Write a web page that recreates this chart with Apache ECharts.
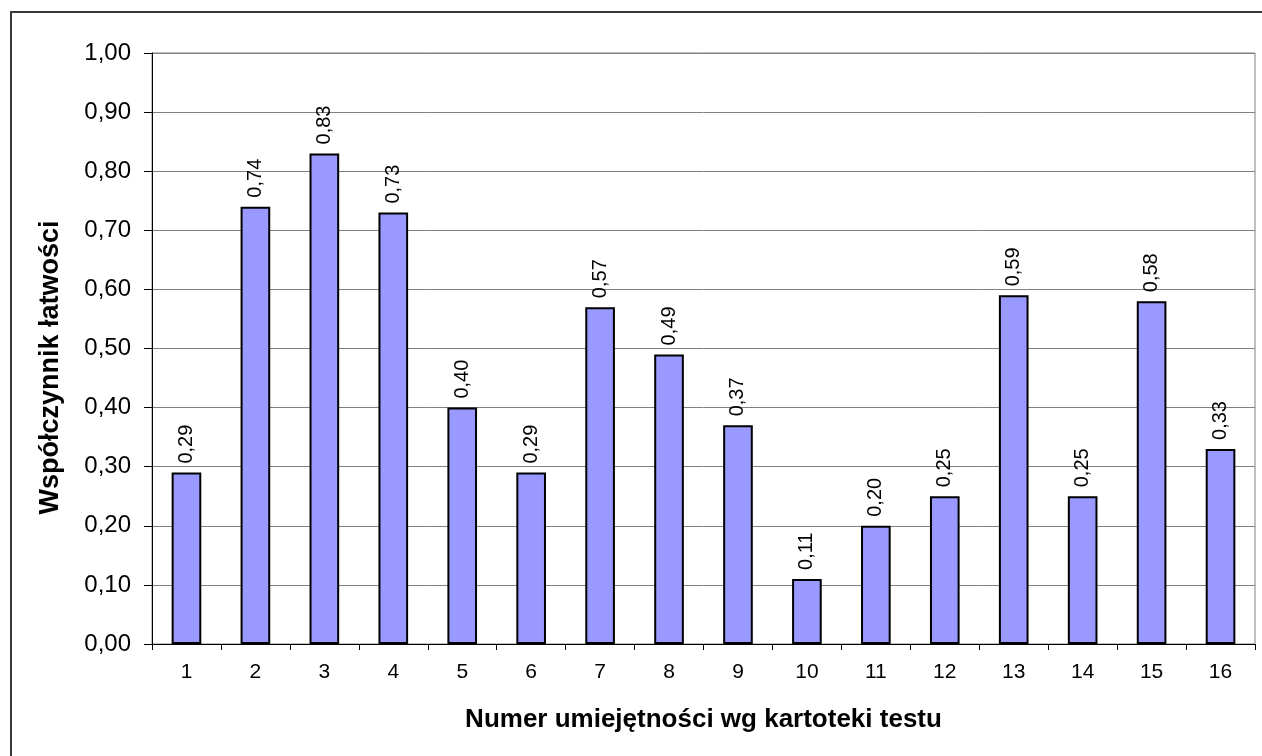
<!DOCTYPE html>
<html>
<head>
<meta charset="utf-8">
<script src="https://cdn.jsdelivr.net/npm/echarts@6/dist/echarts.min.js"></script>
<style>
  html, body { margin: 0; padding: 0; background: #fff; }
  #chart { width: 1262px; height: 756px; }
</style>
</head>
<body>
<div id="chart"></div>
<script>
  var categories = ['1','2','3','4','5','6','7','8','9','10','11','12','13','14','15','16']
  var values = [0.29, 0.74, 0.83, 0.73, 0.40, 0.29, 0.57, 0.49, 0.37, 0.11, 0.20, 0.25, 0.59, 0.25, 0.58, 0.33]
  var yTitle = 'Współczynnik łatwości'
  var xTitle = 'Numer umiejętności wg kartoteki testu'

  function fmt (v) {
    return Number(v).toFixed(2).replace('.', ',')
  }

  var myChart = echarts.init(document.getElementById('chart'))
  var option = {
    animation: false,
    textStyle: { fontFamily: 'Liberation Sans, Arial, sans-serif' },
    graphic: [
      {
        type: 'rect',
        shape: { x: 11, y: 12, width: 1400, height: 900 },
        style: { fill: 'none', stroke: '#3a3a3a', lineWidth: 2 },
        silent: true,
      },
    ],
    grid: {
      left: 152,
      top: 53,
      right: 7,
      bottom: 112,
      show: true,
      borderColor: '#808080',
      borderWidth: 1,
    },
    xAxis: {
      type: 'category',
      data: categories,
      name: xTitle,
      nameLocation: 'middle',
      nameGap: 63,
      nameTextStyle: { fontSize: 26, fontWeight: 'bold', color: '#000' },
      axisLine: { lineStyle: { color: '#000', width: 1 } },
      axisTick: { show: true, length: 6, lineStyle: { color: '#000' } },
      axisLabel: { fontSize: 21, color: '#000', margin: 18 },
    },
    yAxis: {
      type: 'value',
      min: 0,
      max: 1,
      interval: 0.1,
      name: yTitle,
      nameLocation: 'middle',
      nameGap: 88,
      nameTextStyle: { fontSize: 27, fontWeight: 'bold', color: '#000', padding: [0, 38, 0, 0] },
      axisLine: { show: true, lineStyle: { color: '#000', width: 1 } },
      axisTick: { show: true, length: 8, lineStyle: { color: '#000' } },
      axisLabel: { fontSize: 24, color: '#000', margin: 21, formatter: fmt },
      splitLine: { lineStyle: { color: '#808080', width: 1 } },
    },
    series: [
      {
        type: 'bar',
        data: values,
        barWidth: '43%',
        itemStyle: { color: '#9999ff', borderColor: '#000', borderWidth: 2 },
        label: {
          show: true,
          position: 'top',
          rotate: 90,
          align: 'left',
          verticalAlign: 'middle',
          distance: 9,
          fontSize: 20,
          color: '#000',
          formatter: function (p) { return fmt(p.value) },
        },
      },
    ],
  }
  myChart.setOption(option)
</script>
</body>
</html>
